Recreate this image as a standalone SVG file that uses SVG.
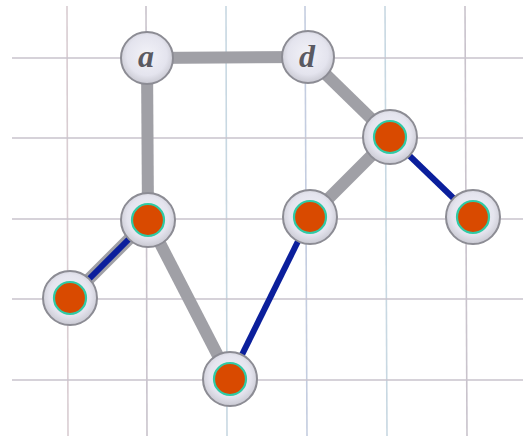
<svg xmlns="http://www.w3.org/2000/svg" width="529" height="436" viewBox="0 0 529 436">
  <defs>
    <radialGradient id="ring" cx="50%" cy="45%" r="55%">
      <stop offset="0" stop-color="#f2f2f8"/>
      <stop offset="0.7" stop-color="#e4e4ee"/>
      <stop offset="1" stop-color="#c9c9d2"/>
    </radialGradient>
  </defs>
  <style>
    .grid line { stroke-width: 1.6; }
    .g1 { stroke: #c9c3cc; }
    .g2 { stroke: #c4cde0; }
    .g3 { stroke: #c8d8e2; }
    .g4 { stroke: #d9cdd2; }
    .edge { stroke: #a0a0a6; stroke-width: 12; stroke-linecap: butt; fill: none; }
    .match { stroke: #0b1f9c; stroke-width: 6; fill: none; }
    .halo { fill: url(#ring); stroke: #8c8c94; stroke-width: 2; }
    .dot { fill: #d94a00; stroke: #2fcaa4; stroke-width: 2.2; }
    .lbl { font-family: "Liberation Serif", serif; font-style: italic; font-weight: bold; font-size: 32px; fill: #5a5a62; text-anchor: middle; }
  </style>
  <rect width="529" height="436" fill="#ffffff"/>
  <g class="grid">
    <line class="g4" x1="67" y1="6" x2="68" y2="436"/>
    <line class="g1" x1="146" y1="6" x2="147" y2="436"/>
    <line class="g3" x1="226" y1="6" x2="227" y2="436"/>
    <line class="g2" x1="305" y1="6" x2="307" y2="436"/>
    <line class="g3" x1="385" y1="6" x2="387" y2="436"/>
    <line class="g1" x1="465" y1="6" x2="467" y2="436"/>
    <line class="g1" x1="12" y1="58" x2="523" y2="58"/>
    <line class="g1" x1="12" y1="138" x2="523" y2="138"/>
    <line class="g1" x1="12" y1="219" x2="523" y2="219"/>
    <line class="g1" x1="12" y1="299" x2="523" y2="299"/>
    <line class="g1" x1="12" y1="380" x2="523" y2="380"/>
  </g>
  <g id="connectors">
    <line class="edge" x1="147" y1="58" x2="308" y2="57"/>
    <line class="edge" x1="147" y1="58" x2="148" y2="220"/>
    <line class="edge" x1="308" y1="57" x2="390" y2="137"/>
    <line class="edge" x1="390" y1="137" x2="310" y2="217"/>
    <line class="edge" x1="148" y1="220" x2="70" y2="298"/>
    <line class="edge" x1="148" y1="220" x2="230" y2="379"/>
    <line class="match" x1="148" y1="220" x2="70" y2="298"/>
    <line class="match" x1="310" y1="217" x2="230" y2="379"/>
    <line class="match" x1="390" y1="137" x2="473" y2="217"/>
  </g>
  <g id="node-a">
    <circle class="halo" cx="147" cy="58" r="26"/>
    <text class="lbl" x="146" y="67">a</text>
  </g>
  <g id="node-d">
    <circle class="halo" cx="308" cy="57" r="26"/>
    <text class="lbl" x="307" y="67">d</text>
  </g>
  <g id="node-e">
    <circle class="halo" cx="390" cy="137" r="27"/>
    <circle class="dot" cx="390" cy="137" r="16"/>
  </g>
  <g id="node-b">
    <circle class="halo" cx="148" cy="220" r="27"/>
    <circle class="dot" cx="148" cy="220" r="16"/>
  </g>
  <g id="node-c">
    <circle class="halo" cx="310" cy="217" r="27"/>
    <circle class="dot" cx="310" cy="217" r="16"/>
  </g>
  <g id="node-f">
    <circle class="halo" cx="473" cy="217" r="27"/>
    <circle class="dot" cx="473" cy="217" r="16"/>
  </g>
  <g id="node-g">
    <circle class="halo" cx="70" cy="298" r="27"/>
    <circle class="dot" cx="70" cy="298" r="16"/>
  </g>
  <g id="node-h">
    <circle class="halo" cx="230" cy="379" r="27"/>
    <circle class="dot" cx="230" cy="379" r="16"/>
  </g>
</svg>
